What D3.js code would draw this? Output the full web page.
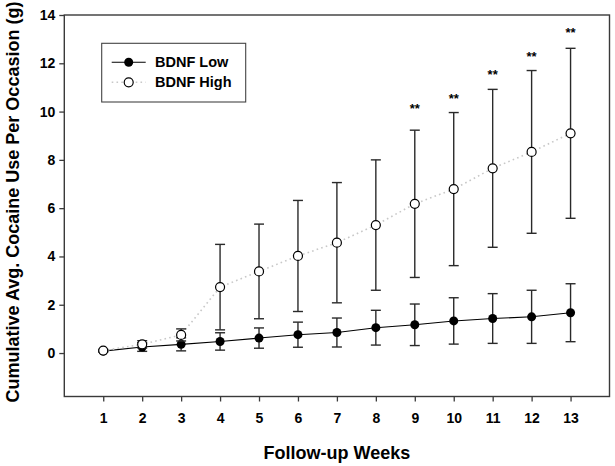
<!DOCTYPE html>
<html>
<head>
<meta charset="utf-8">
<script src="https://cdn.jsdelivr.net/npm/d3@7"></script>
<style>
  html, body { margin: 0; padding: 0; background: #fff; }
  svg { display: block; }
  text { font-family: "Liberation Sans", Arial, sans-serif; font-weight: bold; fill: #000; }
</style>
</head>
<body>
<svg id="chart" width="615" height="466"></svg>
<script>
// ---- data ----
const weeks = [1, 2, 3, 4, 5, 6, 7, 8, 9, 10, 11, 12, 13];
const lowMean  = [0.08, 0.25, 0.36, 0.48, 0.62, 0.76, 0.85, 1.05, 1.17, 1.33, 1.43, 1.50, 1.67];
const lowErr   = [0.03, 0.18, 0.27, 0.36, 0.42, 0.52, 0.60, 0.72, 0.86, 0.96, 1.03, 1.10, 1.20];
const highMean = [0.10, 0.36, 0.75, 2.73, 3.38, 4.02, 4.57, 5.30, 6.18, 6.79, 7.65, 8.33, 9.10];
const highErr  = [0.05, 0.15, 0.25, 1.77, 1.96, 2.30, 2.49, 2.70, 3.05, 3.17, 3.27, 3.37, 3.52];
const starWeeks  = [9, 10, 11, 12, 13];
const starLevels = [10.25, 10.65, 11.65, 12.4, 13.4];
const yTicks = [0, 2, 4, 6, 8, 10, 12, 14];
const seriesNames = ["BDNF Low", "BDNF High"];
const xTitle = "Follow-up Weeks";
const yTitle = "Cumulative Avg. Cocaine Use Per Occasion (g)";

(function () {
// ---- layout ----
const svg = d3.select("#chart");
const pL = 64.3, pR = 609.5, pT = 15, pB = 396.5;
const x = d3.scaleLinear().domain([0, 14]).range([pL, pR]);
const y = d3.scaleLinear().domain([-1.8, 14]).range([pB, pT]);
const axisColor = "#3a3a3a";

// frame
svg.append("rect")
  .attr("x", pL).attr("y", pT)
  .attr("width", pR - pL).attr("height", pB - pT)
  .attr("fill", "none").attr("stroke", axisColor).attr("stroke-width", 1.4);

// axes
const yAxis = d3.axisLeft(y).tickValues(yTicks).tickSize(5).tickPadding(4).tickFormat(d3.format("d"));
const gy = svg.append("g").attr("transform", `translate(${pL},0)`).call(yAxis);
gy.select(".domain").remove();
gy.selectAll("line").attr("stroke", axisColor).attr("stroke-width", 1.3);
gy.selectAll("text").attr("font-size", 14).attr("font-family", "Liberation Sans, Arial, sans-serif")
  .attr("font-weight", "bold").attr("fill", "#000");

const xAxis = d3.axisBottom(x).tickValues(weeks).tickSize(5).tickPadding(12).tickFormat(d3.format("d"));
const gx = svg.append("g").attr("transform", `translate(0,${pB})`).call(xAxis);
gx.select(".domain").remove();
gx.selectAll("line").attr("stroke", axisColor).attr("stroke-width", 1.3);
gx.selectAll("text").attr("font-size", 14).attr("font-family", "Liberation Sans, Arial, sans-serif")
  .attr("font-weight", "bold").attr("fill", "#000");

// titles
svg.append("text").attr("x", x(7)).attr("y", 459).attr("text-anchor", "middle")
  .attr("font-size", 18).text(xTitle);
svg.append("text").attr("transform", "translate(18.5,202) rotate(-90)").attr("text-anchor", "middle")
  .attr("font-size", 18).text(yTitle);

// helpers
function drawErrorBars(g, means, errs, color) {
  const cap = 5;
  weeks.forEach((w, i) => {
    const cx = x(w), y1 = y(means[i] + errs[i]), y0 = y(means[i] - errs[i]);
    g.append("line").attr("x1", cx).attr("x2", cx).attr("y1", y1).attr("y2", y0)
      .attr("stroke", color).attr("stroke-width", 1.4);
    [y1, y0].forEach(yy => g.append("line").attr("x1", cx - cap).attr("x2", cx + cap)
      .attr("y1", yy).attr("y2", yy).attr("stroke", color).attr("stroke-width", 1.4));
  });
}
const line = d3.line().x(d => x(d[0])).y(d => y(d[1]));

// low series
const gLow = svg.append("g");
gLow.append("path").datum(weeks.map((w, i) => [w, lowMean[i]])).attr("d", line)
  .attr("fill", "none").attr("stroke", "#000").attr("stroke-width", 1.1);
drawErrorBars(gLow, lowMean, lowErr, "#2a2a2a");
gLow.selectAll("circle").data(weeks).enter().append("circle")
  .attr("cx", d => x(d)).attr("cy", (d, i) => y(lowMean[i])).attr("r", 4.5).attr("fill", "#000");

// high series
const gHigh = svg.append("g");
gHigh.append("path").datum(weeks.map((w, i) => [w, highMean[i]])).attr("d", line)
  .attr("fill", "none").attr("stroke", "#c8c8c8").attr("stroke-width", 1.6)
  .attr("stroke-dasharray", "1.6,3.2");
drawErrorBars(gHigh, highMean, highErr, "#2a2a2a");
gHigh.selectAll("circle").data(weeks).enter().append("circle")
  .attr("cx", d => x(d)).attr("cy", (d, i) => y(highMean[i])).attr("r", 4.5)
  .attr("fill", "#fff").attr("stroke", "#000").attr("stroke-width", 1.2);

// significance stars
starWeeks.forEach((w, i) => {
  svg.append("text").attr("x", x(w)).attr("y", y(starLevels[i]) + 7.5)
    .attr("text-anchor", "middle").attr("font-size", 13).text("**");
});

// legend
const lg = svg.append("g");
lg.append("rect").attr("x", 101.7).attr("y", 43.3).attr("width", 144).attr("height", 58.7)
  .attr("fill", "#fff").attr("stroke", "#444").attr("stroke-width", 1.1);
const rows = [62.3, 82.3];
lg.append("line").attr("x1", 111.7).attr("x2", 145.7).attr("y1", rows[0]).attr("y2", rows[0])
  .attr("stroke", "#000").attr("stroke-width", 1.1);
lg.append("circle").attr("cx", 128.7).attr("cy", rows[0]).attr("r", 4.5).attr("fill", "#000");
lg.append("line").attr("x1", 111.7).attr("x2", 145.7).attr("y1", rows[1]).attr("y2", rows[1])
  .attr("stroke", "#c8c8c8").attr("stroke-width", 1.6).attr("stroke-dasharray", "1.6,3.2");
lg.append("circle").attr("cx", 128.7).attr("cy", rows[1]).attr("r", 4.5)
  .attr("fill", "#fff").attr("stroke", "#000").attr("stroke-width", 1.2);
seriesNames.forEach((n, i) => {
  lg.append("text").attr("x", 155).attr("y", rows[i] + 5).attr("font-size", 14.5).text(n);
});
})();
</script>
</body>
</html>
